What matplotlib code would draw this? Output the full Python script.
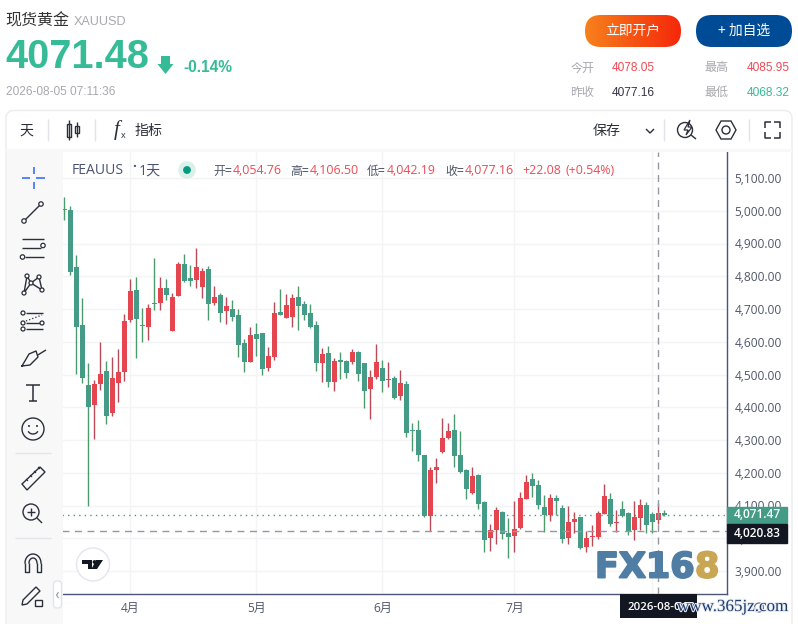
import numpy as np
import matplotlib
matplotlib.use("Agg")
import matplotlib.pyplot as plt
import matplotlib.patheffects as pe
from matplotlib.colors import LinearSegmentedColormap
from matplotlib.patches import Circle, FancyBboxPatch, Polygon, Rectangle

"""
Gold daily candles inside a quote page: the chart is a real axes, the page around it
is drawn on a full figure overlay that works in screen pixels.
"""

# Daily candles, oldest first (the last two come from the header readouts)
opens = [5005, 5002, 4828, 4651, 4468, 4407, 4471, 4511, 4383, 4474, 4508, 4666, 4758, 4651, 4645, 4718, 4718,
         4764, 4633, 4740, 4837, 4795, 4789, 4767, 4822, 4718, 4743, 4694, 4700, 4682, 4596, 4538, 4624, 4627,
         4520, 4553, 4691, 4673, 4676, 4737, 4715, 4688, 4651, 4535, 4566, 4477, 4544, 4541, 4538, 4569, 4535,
         4456, 4492, 4520, 4484, 4489, 4434, 4471, 4331, 4331, 4254, 4068, 4208, 4263, 4306, 4331, 4254, 4208,
         4138, 4193, 4111, 4001, 4025, 4080, 4016, 4007, 4031, 4120, 4181, 4163, 4096, 4071, 4123, 4092, 4001,
         4050, 4065, 3973, 4005, 4004, 4074, 4120, 4048, 4089, 4077, 4025, 4062, 4102, 4074, 4054.76, 4078.05]
highs = [5041, 5015, 4865, 4734, 4535, 4483, 4599, 4541, 4553, 4578, 4685, 4792, 4798, 4703, 4715, 4856, 4798,
         4792, 4749, 4844, 4868, 4834, 4886, 4825, 4831, 4770, 4749, 4737, 4728, 4700, 4608, 4645, 4657, 4627,
         4584, 4721, 4761, 4746, 4746, 4770, 4724, 4715, 4663, 4581, 4587, 4550, 4569, 4544, 4578, 4572, 4535,
         4514, 4593, 4544, 4538, 4495, 4514, 4480, 4352, 4361, 4254, 4218, 4245, 4367, 4352, 4379, 4328, 4211,
         4218, 4196, 4114, 4044, 4095, 4083, 4062, 4114, 4141, 4193, 4199, 4178, 4132, 4135, 4132, 4102, 4099,
         4080, 4065, 4022, 4041, 4083, 4166, 4138, 4086, 4114, 4080, 4114, 4120, 4111, 4080, 4106.50, 4085.95]
lows = [4972, 4804, 4502, 4474, 4100, 4303, 4453, 4349, 4373, 4416, 4480, 4660, 4550, 4599, 4605, 4697, 4697,
        4728, 4633, 4740, 4782, 4770, 4764, 4734, 4666, 4712, 4660, 4654, 4663, 4553, 4508, 4538, 4557, 4499,
        4511, 4544, 4682, 4673, 4645, 4636, 4666, 4642, 4511, 4477, 4462, 4450, 4486, 4489, 4532, 4480, 4398,
        4364, 4486, 4447, 4462, 4425, 4422, 4309, 4266, 4236, 4065, 4022, 4169, 4260, 4303, 4218, 4199, 4120,
        4135, 4089, 3958, 3961, 3983, 3998, 3940, 3958, 4028, 4120, 4126, 4089, 4019, 4053, 4071, 3986, 3983,
        4016, 3967, 3958, 3976, 3998, 4074, 4037, 4019, 4065, 4010, 3995, 4025, 4016, 4016, 4042.19, 4068.32]
closes = [5002, 4814, 4646, 4489, 4401, 4471, 4502, 4373, 4489, 4508, 4663, 4755, 4670, 4648, 4703, 4715, 4764,
          4743, 4737, 4837, 4786, 4786, 4828, 4816, 4715, 4737, 4688, 4709, 4676, 4590, 4538, 4621, 4608, 4517,
          4557, 4688, 4682, 4712, 4734, 4709, 4682, 4645, 4535, 4563, 4477, 4541, 4538, 4505, 4569, 4502, 4450,
          4492, 4538, 4480, 4486, 4428, 4474, 4321, 4328, 4254, 4068, 4208, 4218, 4306, 4328, 4251, 4202, 4150,
          4190, 4105, 3995, 4025, 4086, 4013, 4004, 4028, 4123, 4172, 4160, 4102, 4071, 4123, 4114, 3998, 4050,
          4059, 3970, 4001, 4007, 4077, 4129, 4044, 4050, 4068, 4022, 4065, 4102, 4041, 4050, 4077.16, 4071.48]

priceTicks = [3900, 4000, 4100, 4200, 4300, 4400, 4500, 4600, 4700, 4800, 4900, 5000, 5100]
monthPositions = [11, 32, 53, 75, 98]
monthLabels = ["4月", "5月", "6月", "7月", "8月"]
lastPrice = 4071.47
crossPrice = 4020.83
crossIndex = 99

# Style choices
upBody = "#e5454e"
upWick = "#b94a58"
downBody = "#449c87"
downWick = "#4c9a6e"
quoteGreen = "#35bb96"
quoteRed = "#ee4a55"
greyText = "#a8a8b0"
axisText = "#50566a"
iconColour = "#2b2f3a"
latin = "Open Sans"
cjk = "Noto Sans CJK SC"

plt.rcParams["font.family"] = [latin, cjk, "DejaVu Sans"]

W, H = 798, 624
fig = plt.figure(figsize=(W/100, H/100), dpi=100, facecolor="white")

# Chart axes, placed on the pixel box of the original
chartLeft, chartRight, chartTop, chartBottom = 62, 727, 152, 594
ax = fig.add_axes([chartLeft/W, 1-chartBottom/H, (chartRight-chartLeft)/W, (chartBottom-chartTop)/H])
pxPerPrice = 0.3275
pxPerCandle = 6
ax.set_ylim(5100-(chartBottom-178)/pxPerPrice, 5100+(178-chartTop)/pxPerPrice)
ax.set_xlim((chartLeft-64.33)/pxPerCandle, (chartRight-64.33)/pxPerCandle)

for i in range(len(opens)):
    rising = closes[i] >= opens[i]
    ax.vlines(i, lows[i], highs[i], color=upWick if rising else downWick, lw=1, zorder=3)
    top = max(opens[i], closes[i])
    bottom = min(opens[i], closes[i])
    ax.bar(i, max(top-bottom, 3), bottom=bottom, width=5/pxPerCandle, color=upBody if rising else downBody,
           linewidth=0, zorder=4)

ax.set_yticks(priceTicks)
ax.set_yticklabels([f"{p:,.2f}" for p in priceTicks])
ax.set_xticks(monthPositions)
ax.set_xticklabels(monthLabels)
ax.yaxis.tick_right()
ax.tick_params(axis="y", length=0, pad=5.5, labelsize=8.6, labelcolor=axisText)
ax.tick_params(axis="x", length=0, pad=6, labelsize=8.6, labelcolor=axisText)
ax.grid(True, color="#f3f4f6", lw=1)
ax.set_axisbelow(True)
for side in ["left", "top"]:
    ax.spines[side].set_visible(False)
for side in ["right", "bottom"]:
    ax.spines[side].set_color("#4a5578")
    ax.spines[side].set_linewidth(1)

# Last price and crosshair lines
ax.axhline(lastPrice, color=downBody, lw=1, ls=(0, (1, 3)), zorder=2)
ax.axhline(crossPrice, color="#9598a1", lw=1, ls=(0, (5, 4)), zorder=5)
ax.axvline(crossIndex, color="#9598a1", lw=1, ls=(0, (5, 4)), zorder=5)

# Price tags sitting on the right scale
tagTrans = ax.get_yaxis_transform()
tagWidth = 60/(chartRight-chartLeft)
ax.add_patch(Rectangle((1, lastPrice-25), tagWidth, 50, transform=tagTrans, color=downBody, clip_on=False, zorder=6))
ax.add_patch(Rectangle((1, crossPrice-34), tagWidth, 58, transform=tagTrans, color="#131722", clip_on=False, zorder=6))
ax.text(1+tagWidth/2, lastPrice, f"{lastPrice:,.2f}", transform=tagTrans, color="white", fontsize=8.6, weight="semibold",
        ha="center", va="center", zorder=7)
ax.text(1+tagWidth/2, crossPrice-5, f"{crossPrice:,.2f}", transform=tagTrans, color="white", fontsize=8.6, weight="semibold",
        ha="center", va="center", zorder=7)

# Overlay in screen pixels for the page around the chart
ui = fig.add_axes([0, 0, 1, 1], facecolor="none")
ui.set_xlim(0, W)
ui.set_ylim(H, 0)
ui.axis("off")


def txt(x, y, s, px, colour, ha="left", weight="normal", family=None, **kw):
    return ui.text(x, y, s, fontsize=px*0.72, color=colour, ha=ha, va="center", weight=weight,
                   family=family if family else [latin, cjk, "DejaVu Sans"], **kw)


def seg(xs, ys, colour=iconColour, lw=1.0, **kw):
    ui.plot(xs, ys, color=colour, lw=lw, solid_capstyle="butt", **kw)


def ring(x, y, r=2.2):
    ui.add_patch(Circle((x, y), r, facecolor="white", edgecolor=iconColour, lw=0.9, zorder=4))


# Quote header
txt(5, 21, "现货黄金", 16, "#333333", family=[cjk])
txt(74, 22, "XAUUSD", 12.6, greyText, family="Liberation Sans")
txt(5.5, 57, "4071.48", 39.8, quoteGreen, weight="bold", family="Liberation Sans")
ui.add_patch(Polygon([[161, 56], [170, 56], [170, 64], [173.5, 64], [165.5, 74], [157.5, 64], [161, 64]], color=quoteGreen, lw=0))
txt(183.5, 67, "-0.14%", 15.5, quoteGreen, weight="bold", family="Liberation Sans")
txt(6, 92, "2026-08-05 07:11:36", 11.85, greyText, family="Liberation Sans")

# Buttons
orange = FancyBboxPatch((585, 15), 96, 32, boxstyle="round,pad=0,rounding_size=16", facecolor="none", edgecolor="none")
ui.add_patch(orange)
grad = ui.imshow(np.linspace(0, 1, 96).reshape(1, -1), extent=(585, 681, 47, 15), aspect="auto",
                 cmap=LinearSegmentedColormap.from_list("btn", ["#f7811c", "#f5280a"]))
grad.set_clip_path(orange)
ui.set_xlim(0, W)
ui.set_ylim(H, 0)
ui.add_patch(FancyBboxPatch((696, 15), 96, 32, boxstyle="round,pad=0,rounding_size=16", facecolor="#004b96", edgecolor="none"))
txt(633, 31, "立即开户", 13.8, "white", ha="center", family=[cjk])
txt(744, 31, "+ 加自选", 13.8, "white", ha="center", family=[cjk])

# Day stats
txt(570.5, 68, "今开", 12, greyText, family=[cjk])
txt(612, 68, "4078.05", 11.9, quoteRed, family="Liberation Sans")
txt(704.5, 68, "最高", 12, greyText, family=[cjk])
txt(747, 68, "4085.95", 11.9, quoteRed, family="Liberation Sans")
txt(570.5, 92.5, "昨收", 12, greyText, family=[cjk])
txt(612, 92.5, "4077.16", 11.9, "#333344", family="Liberation Sans")
txt(704.5, 92.5, "最低", 12, greyText, family=[cjk])
txt(747, 92.5, "4068.32", 11.9, quoteGreen, family="Liberation Sans")

# Panel frame, toolbar band and left tool strip
ui.add_patch(FancyBboxPatch((6, 110.5), 786, 530, boxstyle="round,pad=0,rounding_size=8", facecolor="none", edgecolor="#ececef", lw=1))
ui.add_patch(Rectangle((6, 149), 786, 3, color="#f8f8f9", lw=0))
ui.add_patch(Rectangle((6.5, 149), 56, 475, color="#f8f8f9", lw=0))
for sepX in [48, 95, 664, 749]:
    seg([sepX, sepX], [119, 141], "#e2e4ea")

txt(26, 131, "天", 14, iconColour, ha="center", family=[cjk])
txt(135, 131, "指标", 14, iconColour, family=[cjk])
txt(593, 131, "保存", 14, iconColour, family=[cjk])
seg([646, 650, 654], [129, 133, 129], lw=1)

# Candle icon
ui.add_patch(Rectangle((66.5, 124), 4, 13, facecolor="white", edgecolor=iconColour, lw=1))
ui.add_patch(Rectangle((74.5, 126), 4, 7, facecolor="white", edgecolor=iconColour, lw=1))
seg([68.5, 68.5], [120, 140])
seg([76.5, 76.5], [122, 137])
# fx icon
txt(117, 130, "f", 21, iconColour, ha="center", family="Liberation Serif", style="italic")
txt(123, 135, "x", 9, iconColour, ha="center")
# Flash search icon
ui.add_patch(Circle((685, 130), 7.5, facecolor="none", edgecolor=iconColour, lw=1))
seg([691, 696], [135, 139])
ui.add_patch(Polygon([[690, 120], [684, 130], [688, 130], [686, 135], [692, 127], [688, 127]], facecolor="white", edgecolor=iconColour, lw=0.9, zorder=4))
# Settings hexagon
ui.add_patch(Polygon([[716, 130], [721, 121], [731, 121], [736, 130], [731, 139], [721, 139]], facecolor="none", edgecolor=iconColour, lw=1))
ui.add_patch(Circle((726, 130), 4, facecolor="none", edgecolor=iconColour, lw=1))
# Fullscreen corners
for cx, sx in [(765, 1), (780, -1)]:
    for cy, sy in [(122, 1), (138, -1)]:
        seg([cx+sx*6, cx, cx], [cy, cy, cy+sy*6], lw=1.1)

# Chart legend row
txt(72, 171, "FEAUUS", 14, "#4a5470")
txt(132, 167, "·", 14, "#4a5470", weight="bold")
txt(139, 171, "1天", 14, "#4a5470", family=[latin, cjk])
ui.add_patch(Circle((187, 170), 8.8, color="#dbefeb", lw=0))
ui.add_patch(Circle((187, 170), 3.9, color="#089981", lw=0))
legendLabels = [(213, "开="), (290, "高="), (367, "低="), (445, "收=")]
legendValues = [(233, "4,054.76"), (310, "4,106.50"), (387, "4,042.19"), (465, "4,077.16"), (522, "+22.08"), (566, "(+0.54%)")]
for lx, s in legendLabels:
    txt(lx, 171, s, 12, "#50566a", family=[cjk, latin])
for lx, s in legendValues:
    txt(lx, 171, s, 12.4, quoteRed)

# Left tool strip icons
for xs, ys in [([22, 30], [178, 178]), ([36, 45], [178, 178]), ([33.5, 33.5], [167, 174]), ([33.5, 33.5], [182, 189])]:
    seg(xs, ys, "#2962ff", lw=1.1)
seg([24, 41], [221, 204])
ring(24, 221)
ring(41, 204)
for lineY, a, b in [(239, 22, 44), (248, 22, 41), (257, 25, 44)]:
    seg([a, b], [lineY, lineY])
ring(43, 245.5)
ring(22.5, 257)
pattern = [(24, 293), (27, 276), (31, 283), (39, 277), (42, 290), (31, 283), (24, 293)]
seg([p[0] for p in pattern], [p[1] for p in pattern])
for px, py in pattern[:5]:
    ring(px, py, 2)
for lineY, a, b in [(313, 26, 43), (323, 26, 43), (329, 26, 43)]:
    seg([a, b], [lineY, lineY])
seg([26, 42], [321, 315], ls=":", lw=0.9)
for rx, ry in [(23, 313), (23, 323), (23, 329), (42, 323)]:
    ring(rx, ry, 2)
ui.plot([22, 29, 36, 38, 30, 22], [366, 354, 351, 357, 365, 366], color=iconColour, lw=1)
seg([38, 41, 46], [355, 353, 350])
seg([26, 40], [385, 385], lw=1.1)
seg([33, 33], [385, 401], lw=1.1)
seg([29, 37], [401, 401], lw=1.1)
ui.add_patch(Circle((33, 429), 11, facecolor="none", edgecolor=iconColour, lw=1))
ui.add_patch(Circle((29, 426), 1, color=iconColour, lw=0))
ui.add_patch(Circle((37, 426), 1, color=iconColour, lw=0))
smile = np.linspace(0.15, 0.85, 12)*np.pi
ui.plot(33+5*np.cos(smile), 430+4*np.sin(smile), color=iconColour, lw=1)
seg([15, 51], [453, 453], "#e2e4ea")
ui.add_patch(Polygon([[22, 484], [40, 467], [45, 472], [27, 490]], facecolor="none", edgecolor=iconColour, lw=1))
for t in [26, 30, 34, 38]:
    seg([t, t+2], [479-(t-26), 481-(t-26)], lw=0.8)
ui.add_patch(Circle((31, 512), 8, facecolor="none", edgecolor=iconColour, lw=1))
seg([37, 42], [518, 523])
seg([27, 35], [512, 512])
seg([31, 31], [508, 516])
seg([15, 51], [538, 538], "#e2e4ea")
arc = np.linspace(np.pi, 2*np.pi, 20)
ui.plot(33+8*np.cos(arc), 563+9*np.sin(arc), color=iconColour, lw=1)
ui.plot(33+4*np.cos(arc), 563+5*np.sin(arc), color=iconColour, lw=1)
seg([25, 25, 29, 29], [563, 572, 572, 563])
seg([37, 37, 41, 41], [563, 572, 572, 563])
ui.add_patch(Polygon([[23, 600], [36, 587], [40, 591], [27, 604], [22, 605]], facecolor="none", edgecolor=iconColour, lw=1))
ui.add_patch(Rectangle((35, 600), 7, 6, facecolor="white", edgecolor=iconColour, lw=1, zorder=4))
ui.add_patch(FancyBboxPatch((53.5, 581), 8, 27, boxstyle="round,pad=0,rounding_size=3", facecolor="white", edgecolor="#e2e4ea", lw=1))
seg([58.5, 56.5, 58.5], [592, 595, 598], "#9598a1", lw=0.8)

# TradingView badge
ui.add_patch(Circle((93, 564.5), 16.5, facecolor="white", edgecolor="#e4e6ee", lw=1))
ui.add_patch(Polygon([[82, 560], [92, 560], [92, 569], [88, 569], [88, 563.5], [82, 563.5]], color="#131722", lw=0))
ui.add_patch(Polygon([[96, 560], [103, 560], [97, 569], [91.5, 569]], color="#131722", lw=0))
ui.add_patch(Circle((94.5, 562), 1.9, color="#131722", lw=0))

# Date tag on the time scale and the page watermarks
ui.add_patch(Rectangle((620, 594), 77, 24, color="#131722", lw=0))
txt(628, 607, "2026-08-04", 11.5, "white", weight="semibold", zorder=5)
ui.add_patch(Circle((759, 607.5), 4.5, facecolor="none", edgecolor="#6d7280", lw=0.9))
heavy = [pe.withStroke(linewidth=1.4, foreground="#4f7da3")]
txt(595, 567.5, "FX16", 35, "#4f7da3", weight="bold", family="DejaVu Sans", zorder=6, path_effects=heavy)
txt(695, 567.5, "8", 35, "#c9a653", weight="bold", family="DejaVu Sans", zorder=6,
    path_effects=[pe.withStroke(linewidth=1.4, foreground="#c9a653")])
txt(677, 607, "www.365jz.com", 17, "#1d3c70", family="Liberation Serif", zorder=7,
    path_effects=[pe.withStroke(linewidth=1.5, foreground="#e8ebf2")])

fig.savefig("out.png", dpi=100)
